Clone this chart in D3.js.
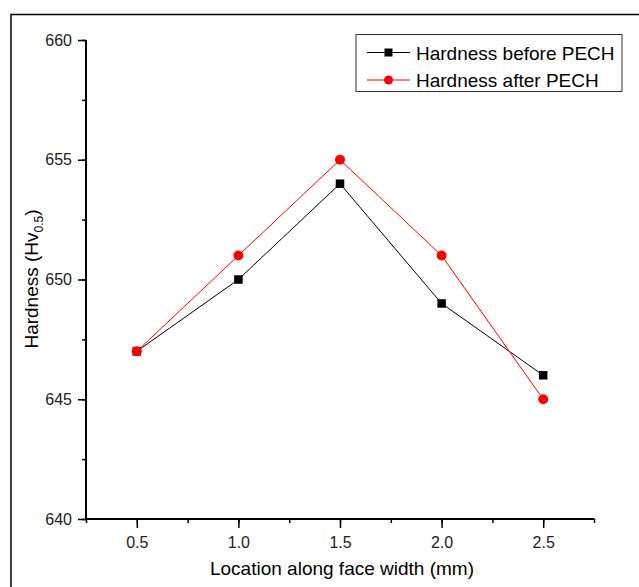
<!DOCTYPE html>
<html><head><meta charset="utf-8">
<script src="https://cdn.jsdelivr.net/npm/d3@7"></script>
<style>body{margin:0;background:#fff}svg{display:block;font-family:Arial,"Liberation Sans",sans-serif}</style>
</head><body><svg id="c" width="639" height="587"></svg>
<script>
const locations = [0.5, 1.0, 1.5, 2.0, 2.5];
const hardnessBefore = [647, 650, 654, 649, 646];
const hardnessAfter = [647, 651, 655, 651, 645];
const xTicks = [0.5, 1.0, 1.5, 2.0, 2.5];
const yTicks = [640, 645, 650, 655, 660];
const seriesNames = ["Hardness before PECH", "Hardness after PECH"];

const svg = d3.select("#c");
const L = 86, R = 594, T = 40, B = 519;
const x = d3.scaleLinear().domain([0.25, 2.75]).range([L, R]);
const y = d3.scaleLinear().domain([640, 660]).range([B, T]);

// outer frame
svg.append("rect").attr("x", 11).attr("y", 14.5).attr("width", 700).attr("height", 700)
  .attr("fill", "none").attr("stroke", "#000").attr("stroke-width", 1.5);

// x axis
const gx = svg.append("g").attr("transform", `translate(0,${B})`);
gx.append("g").call(d3.axisBottom(x).tickValues(d3.range(0.25, 2.76, 0.25)).tickSize(4).tickFormat(""));
gx.append("g").call(d3.axisBottom(x).tickValues(xTicks).tickSize(9).tickFormat(d3.format(".1f")))
  .call(g => g.selectAll("text").attr("font-size", 16).attr("fill", "#222").attr("y", 29).attr("dy", 0));
gx.selectAll(".tick line").attr("stroke-width", 1.5);
gx.selectAll(".domain").remove();
svg.append("line").attr("x1", L).attr("x2", R + 0.5).attr("y1", B).attr("y2", B).attr("stroke", "#000").attr("stroke-width", 2);

// y axis
const gy = svg.append("g").attr("transform", `translate(${L},0)`);
gy.append("g").call(d3.axisLeft(y).tickValues(d3.range(640, 660.1, 2.5)).tickSize(4).tickFormat(""));
gy.append("g").call(d3.axisLeft(y).tickValues(yTicks).tickSize(8).tickFormat(d3.format("d")))
  .call(g => g.selectAll("text").attr("font-size", 16).attr("fill", "#222").attr("x", -14));
gy.selectAll(".tick line").attr("stroke-width", 1.5);
gy.selectAll(".domain").remove();
svg.append("line").attr("x1", L).attr("x2", L).attr("y1", T).attr("y2", B + 1).attr("stroke", "#000").attr("stroke-width", 2);

// axis titles
svg.append("text").attr("x", 342).attr("y", 575).attr("text-anchor", "middle")
  .attr("font-size", 19).attr("fill", "#000").text("Location along face width (mm)");
const yl = svg.append("text").attr("transform", "translate(38,279) rotate(-90)")
  .attr("text-anchor", "middle").attr("font-size", 19).attr("fill", "#000");
yl.append("tspan").text("Hardness (Hv");
yl.append("tspan").attr("font-size", 12).attr("dy", 5).text("0.5");
yl.append("tspan").attr("dy", -5).text(")");

// lines
const data = [
  {vals: hardnessBefore, color: "#000", shape: "square"},
  {vals: hardnessAfter, color: "#ff0000", shape: "circle"}
];
const line = d3.line().x(d => x(d[0])).y(d => y(d[1]));
data.forEach(s => {
  const pts = locations.map((l, i) => [l, s.vals[i]]);
  svg.append("path").attr("d", line(pts)).attr("fill", "none")
    .attr("stroke", s.color).attr("stroke-width", 1);
});
data.forEach(s => {
  const pts = locations.map((l, i) => [l, s.vals[i]]);
  if (s.shape === "square") {
    svg.selectAll(null).data(pts).enter().append("rect")
      .attr("x", d => x(d[0]) - 4.25).attr("y", d => y(d[1]) - 4.25)
      .attr("width", 8.5).attr("height", 8.5).attr("fill", s.color);
  } else {
    svg.selectAll(null).data(pts).enter().append("circle")
      .attr("cx", d => x(d[0])).attr("cy", d => y(d[1])).attr("r", 5).attr("fill", s.color);
  }
});

// legend
svg.append("rect").attr("x", 356).attr("y", 34.5).attr("width", 266).attr("height", 57)
  .attr("fill", "#fff").attr("stroke", "#333").attr("stroke-width", 1);
data.forEach((s, i) => {
  const ly = 52.5 + i * 27.5;
  svg.append("line").attr("x1", 367).attr("x2", 410).attr("y1", ly).attr("y2", ly)
    .attr("stroke", s.color).attr("stroke-width", 1);
  if (s.shape === "square") {
    svg.append("rect").attr("x", 388.5 - 4).attr("y", ly - 4).attr("width", 8).attr("height", 8).attr("fill", s.color);
  } else {
    svg.append("circle").attr("cx", 388.5).attr("cy", ly).attr("r", 4.5).attr("fill", s.color);
  }
  svg.append("text").attr("x", 416).attr("y", ly + 7).attr("font-size", 19).attr("fill", "#000").text(seriesNames[i]);
});
</script></body></html>
